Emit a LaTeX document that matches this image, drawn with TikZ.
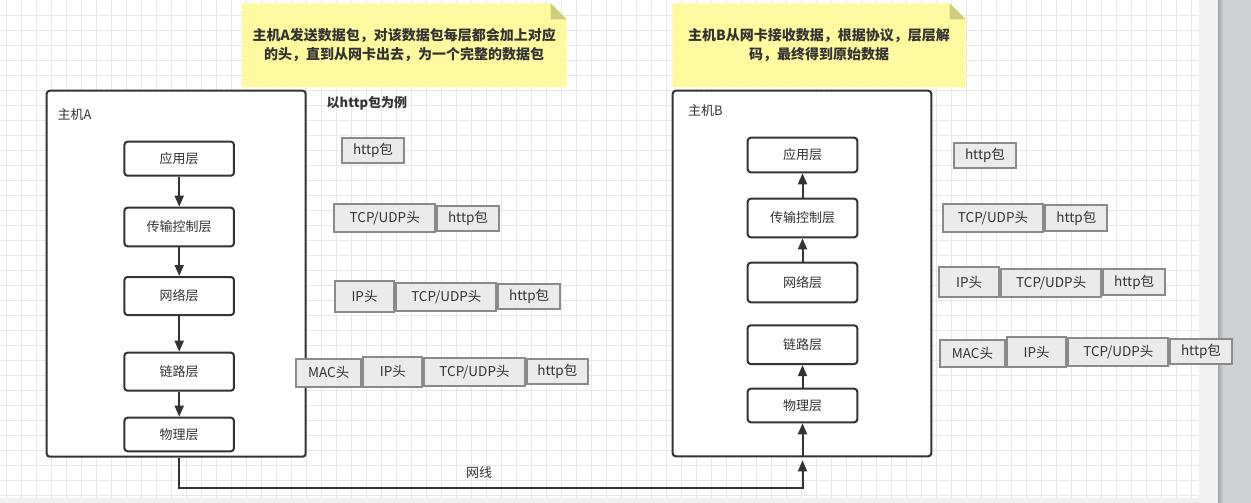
\documentclass[tikz,border=0pt]{standalone}
\usepackage{fontspec}
\setmainfont{Noto Sans CJK SC}
\usetikzlibrary{arrows.meta}
\definecolor{ink}{HTML}{333333}
\definecolor{gridc}{HTML}{E8E8E8}
\definecolor{outside}{HTML}{F0F0F0}
\definecolor{panel}{HTML}{CFD0D4}
\definecolor{pktfill}{HTML}{EBEBEB}
\definecolor{pktdraw}{HTML}{8A8A8A}
\definecolor{notefill}{HTML}{FFFAA0}
\definecolor{notefold}{HTML}{CFCC7C}
\tikzset{
  gridline/.style={draw=gridc, line width=0.9pt},
  hostbox/.style={draw=ink, fill=white, line width=2pt, rounded corners=3pt, inner sep=0pt},
  layerbox/.style={draw=ink, fill=white, line width=2pt, rounded corners=3pt, inner sep=0pt,
    text=ink, font=\fontsize{13}{15}\selectfont},
  pkt/.style={draw=pktdraw, fill=pktfill, line width=1.8pt, inner sep=0pt,
    text=ink, font=\fontsize{13.5}{15}\selectfont},
  plain/.style={text=ink, inner sep=0pt, font=\fontsize{13}{15}\selectfont},
  notetext/.style={text=ink, inner sep=0pt, align=center, font=\bfseries\fontsize{14}{19.5}\selectfont},
  flow/.style={draw=ink, line width=2pt, -{Triangle[length=11pt,width=9pt]}},
  wire/.style={draw=ink, line width=2pt}
}
\newcommand{\notepaper}[4]{%
  \fill[notefill] (#1,#2) -- (#3-16,#2) -- (#3,#2+16) -- (#3,#4) -- (#1,#4) -- cycle;
  \fill[notefold] (#3-16,#2) -- (#3,#2+16) -- (#3-16,#2+16) -- cycle;}
\begin{document}
\begin{tikzpicture}[x=1pt,y=-1pt]
\useasboundingbox (0,0) rectangle (1251,503);
% canvas, grid and side panel
\fill[outside] (0,0) rectangle (1251,503);
\fill[white] (0,0) rectangle (1199,497.5);
\foreach \gx in {6.7,21.7,...,1199} \draw[gridline] (\gx,0) -- (\gx,497.5);
\foreach \gy in {15,30,...,495} \draw[gridline] (0,\gy) -- (1199,\gy);
\fill[panel] (1218,0) rectangle (1251,503);
\shade[left color=black!35, right color=panel] (1218,0) rectangle (1223,503);

% sticky notes
\notepaper{241.7}{3.3}{566.7}{87.3}
\notepaper{672.3}{3.3}{965.7}{87.3}
\node[notetext] (noteA) at (404.2,45) {主机A发送数据包，对该数据包每层都会加上对应\\的头，直到从网卡出去，为一个完整的数据包};
\node[notetext] (noteB) at (819,45) {主机B从网卡接收数据，根据协议，层层解\\码，最终得到原始数据};

% host A stack
\node[hostbox, minimum width=259pt, minimum height=366pt] (hostA) at (176.2,273.7) {};
\node[plain, anchor=west] (labA) at (57.3,114.5) {主机A};
\node[layerbox, minimum width=109.5pt, minimum height=34pt] (a1) at (179.2,158.7) {应用层};
\node[layerbox, minimum width=109.5pt, minimum height=38.6pt] (a2) at (179.2,227) {传输控制层};
\node[layerbox, minimum width=109.5pt, minimum height=38pt] (a3) at (179.2,296) {网络层};
\node[layerbox, minimum width=109.5pt, minimum height=38pt] (a4) at (179.2,371.7) {链路层};
\node[layerbox, minimum width=109.5pt, minimum height=33.6pt] (a5) at (179.2,434.5) {物理层};
\draw[flow] (a1) -- (a2);
\draw[flow] (a2) -- (a3);
\draw[flow] (a3) -- (a4);
\draw[flow] (a4) -- (a5);

% host B stack
\node[hostbox, minimum width=258.6pt, minimum height=365.6pt] (hostB) at (802,273.5) {};
\node[plain, anchor=west] (labB) at (688,110.3) {主机B};
\node[layerbox, minimum width=109.6pt, minimum height=34.6pt] (b1) at (802.5,155) {应用层};
\node[layerbox, minimum width=109.6pt, minimum height=38.6pt] (b2) at (802.5,218) {传输控制层};
\node[layerbox, minimum width=109.6pt, minimum height=39.6pt] (b3) at (802.5,282.5) {网络层};
\node[layerbox, minimum width=109.6pt, minimum height=38.7pt] (b4) at (802.5,344.7) {链路层};
\node[layerbox, minimum width=109.6pt, minimum height=33.6pt] (b5) at (802.5,405.5) {物理层};
\draw[flow] (b2) -- (b1);
\draw[flow] (b3) -- (b2);
\draw[flow] (b5) -- (b4);

% cable between the hosts
\coordinate (cableEnd) at (802.5,488);
\node[plain] (cable) at (479,472.5) {网线};
\draw[flow, shorten >=3pt] (hostA.south -| a5.south) |- (cableEnd) -- (hostB.south -| b5.south);
\draw[flow] (hostB.south -| b5.south) -- (b5.south);

% encapsulation on the sending side
\node[plain, anchor=west, font=\bfseries\fontsize{13}{15}\selectfont] (example) at (326.5,103) {以http包为例};
\node[pkt, minimum width=62pt, minimum height=25pt] (l1) at (373,150.5) {http包};
\node[pkt, minimum width=100.7pt, minimum height=28.6pt] (l2a) at (384.7,218) {TCP/UDP头};
\node[pkt, minimum width=62pt, minimum height=25.3pt] (l2b) at (468,218.7) {http包};
\node[pkt, minimum width=59.6pt, minimum height=30.7pt] (l3a) at (364.5,296.3) {IP头};
\node[pkt, minimum width=100pt, minimum height=28pt] (l3b) at (446.3,296.7) {TCP/UDP头};
\node[pkt, minimum width=61.7pt, minimum height=25.3pt] (l3c) at (529.2,296.3) {http包};
\node[pkt, minimum width=65.3pt, minimum height=28pt] (l4a) at (328.7,372.7) {MAC头};
\node[pkt, minimum width=59pt, minimum height=30pt] (l4b) at (392.8,371.7) {IP头};
\node[pkt, minimum width=100.4pt, minimum height=28pt] (l4c) at (474.5,371.7) {TCP/UDP头};
\node[pkt, minimum width=61.3pt, minimum height=25.3pt] (l4d) at (557.3,371.3) {http包};

% decapsulation on the receiving side
\node[pkt, minimum width=62.6pt, minimum height=25.3pt] (r1) at (985,155.3) {http包};
\node[pkt, minimum width=100.6pt, minimum height=28pt] (r2a) at (993,217.7) {TCP/UDP头};
\node[pkt, minimum width=62pt, minimum height=26pt] (r2b) at (1076.3,218.3) {http包};
\node[pkt, minimum width=59.7pt, minimum height=30.6pt] (r3a) at (969.2,282) {IP头};
\node[pkt, minimum width=100.3pt, minimum height=28pt] (r3b) at (1051.2,282.7) {TCP/UDP头};
\node[pkt, minimum width=61.7pt, minimum height=25.7pt] (r3c) at (1134.2,282.2) {http包};
\node[pkt, minimum width=65pt, minimum height=27.3pt] (r4a) at (972.5,353.7) {MAC头};
\node[pkt, minimum width=59.3pt, minimum height=30.6pt] (r4b) at (1036.7,352) {IP头};
\node[pkt, minimum width=100pt, minimum height=28pt] (r4c) at (1118.3,351.7) {TCP/UDP头};
\node[pkt, minimum width=61.4pt, minimum height=24.7pt] (r4d) at (1201,351.7) {http包};
\end{tikzpicture}
\end{document}
